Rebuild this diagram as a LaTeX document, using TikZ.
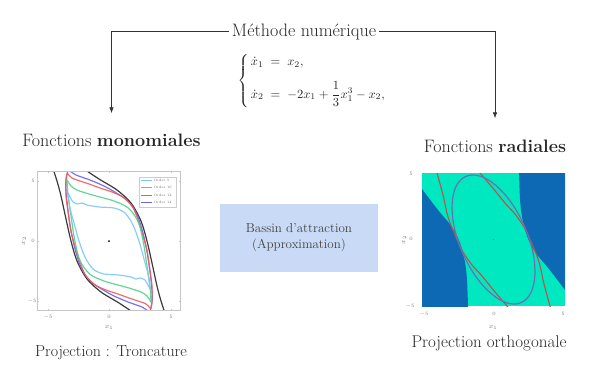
\documentclass[tikz,border=0pt]{standalone}
\usepackage{fontspec}
\usepackage{amsmath}
\usepackage{graphicx}
\usetikzlibrary{arrows.meta}
\definecolor{boxblue}{HTML}{C9DAF7}
\definecolor{dkblue}{HTML}{0D69B3}
\definecolor{aqua}{HTML}{00E8BF}
\definecolor{ellc}{HTML}{6C6FB0}
\definecolor{redc}{HTML}{B8524E}
\definecolor{ofive}{HTML}{7CC8F6}
\definecolor{oten}{HTML}{4FD38C}
\definecolor{otwelve}{HTML}{F25B5B}
\definecolor{ofourteen}{HTML}{6565F2}
\newcommand{\HalfCyan}{plot[smooth] coordinates {(-41,-48) (-36,-39) (-31,-37) (-27,-38) (-22,-36) (-10,-34) (5,-33) (16,-28) (24,-16) (30,0) (35,18) (39,33) (41,48)}}
\newcommand{\HalfGreen}{plot[smooth] coordinates {(-42,-61) (-38,-55) (-32,-51) (-20,-47) (-9,-44) (5,-40) (18,-34) (26,-25) (31,-14) (35,5) (38,25) (41,45) (42,61)}}
\newcommand{\HalfRed}{plot[smooth] coordinates {(-42,-68) (-37,-63) (-32,-61) (-20,-57) (-9,-53) (3,-49) (14,-44) (23,-35) (28,-24) (34,-5) (38,10) (41,30) (43,45) (43,58) (42,67)}}
\newcommand{\HalfBlue}{plot[smooth] coordinates {(-39,-70) (-33,-66) (-19,-61) (-5,-55) (4,-50) (15,-43) (23,-35) (29,-24) (34,-8) (38,10) (41,30) (43,50) (43,62) (41,70)}}
\newcommand{\HalfBlack}{plot[smooth] coordinates {(-28,-74) (-10,-62) (8,-51) (22,-38) (32,-20) (38,0) (43,22) (48,45) (52,60) (57,75)}}
\newcommand{\RedSep}{plot[smooth] coordinates {(434,163) (437,173) (443,195) (448,217) (455,235) (463,252) (472,265) (482,276) (495,292) (507,306) (513,313)}}
\newcommand{\DarkRegion}{plot[smooth] coordinates {(422,189) (438,210) (452,227) (460,243) (465,262) (467,280) (468,306)} -- (468,315) -- (412,315) -- (412,189) -- cycle}
\begin{document}
\begin{tikzpicture}[x=1pt,y=-1pt,
  arr/.style={draw=black!80, line width=0.7pt, -{Latex[length=6pt,width=4.5pt]}},
  title/.style={font=\fontsize{18}{22}\selectfont, text=black!85, inner sep=3pt},
  curve/.style={line width=1.2pt, line cap=round, line join=round, opacity=0.9},
  ticklab/.style={font=\fontsize{5}{6}\selectfont, text=black!55, inner sep=0pt},
  axlab/.style={font=\fontsize{7}{8}\selectfont, text=black!55, inner sep=0pt},
  legtext/.style={font=\fontsize{3.4}{4}\selectfont, text=black!60, inner sep=0pt, anchor=west}]
\useasboundingbox (0,0) rectangle (591,383);

% titles
\node[title, anchor=base] (meth) at (304,36) {Méthode numérique};
\node[title, anchor=base] (mono) at (111.5,146) {Fonctions \textbf{monomiales}};
\node[title, anchor=base] (radi) at (495,152) {Fonctions \textbf{radiales}};
\node[anchor=base, font=\fontsize{16}{19}\selectfont, text=black!85] (projA) at (111,356) {Projection : Troncature};
\node[anchor=base, font=\fontsize{17}{20}\selectfont, text=black!85] (projB) at (489,347) {Projection orthogonale};
\node[fill=boxblue, minimum width=158pt, minimum height=68pt, align=center,
      font=\fontsize{13}{16}\selectfont, text=black!75] (bassin) at (299,238) {Bassin d'attraction\\(Approximation)};
\node[text=black!85, inner sep=0pt] (eq) at (312,81) {\scalebox{1.25}{$\left\{\,\begin{array}{@{}l@{}}\dot x_1 \;=\; x_2,\\[9pt] \dot x_2 \;=\; -2x_1+\dfrac{1}{3}x_1^3-x_2,\end{array}\right.$}};

\draw[arr, shorten >=17pt] (meth.west) -| (mono.north);
\draw[arr, shorten >=18pt] (meth.east) -| (radi.north);

% ---------- left plot ----------
\begin{scope}
  \clip (37.7,171) rectangle (180,310);
  \begin{scope}[shift={(109,241)}]
    \draw[curve, black!85] \HalfBlack;
    \draw[curve, black!85, rotate=180] \HalfBlack;
    \draw[curve, ofourteen] \HalfBlue;
    \draw[curve, ofourteen, rotate=180] \HalfBlue;
    \draw[curve, otwelve] \HalfRed;
    \draw[curve, otwelve, rotate=180] \HalfRed;
    \draw[curve, oten] \HalfGreen;
    \draw[curve, oten, rotate=180] \HalfGreen;
    \draw[curve, ofive] \HalfCyan;
    \draw[curve, ofive, rotate=180] \HalfCyan;
    \fill[black] (0,0) circle (1pt);
  \end{scope}
\end{scope}
\draw[gray!45, line width=0.5pt] (37.7,171) rectangle (180,310);
\foreach \xx in {48,109,171} {
  \draw[gray!45, line width=0.4pt] (\xx,310) -- (\xx,308.5);
  \draw[gray!45, line width=0.4pt] (\xx,171) -- (\xx,172.5);
}
\foreach \yy in {181,241,301} {
  \draw[gray!45, line width=0.4pt] (37.7,\yy) -- (39.2,\yy);
  \draw[gray!45, line width=0.4pt] (180,\yy) -- (178.5,\yy);
}
% legend
\draw[gray!40, fill=white, line width=0.4pt] (139,177) rectangle (176,207);
\draw[ofive, line width=1pt] (141,180.5) -- (152,180.5);
\draw[oten, line width=1pt] (141,187.8) -- (152,187.8);
\draw[otwelve, line width=1pt] (141,195.1) -- (152,195.1);
\draw[ofourteen, line width=1pt] (141,202.4) -- (152,202.4);
\node[legtext] (lgA) at (153.5,180.5) {Order 5};
\node[legtext] (lgB) at (153.5,187.8) {Order 10};
\node[legtext] (lgC) at (153.5,195.1) {Order 12};
\node[legtext] (lgD) at (153.5,202.4) {Order 14};
% ticks left
\node[ticklab] (lyA) at (33,181) {5};
\node[ticklab] (lyB) at (33,241) {0};
\node[ticklab] (lyC) at (32,301) {$-5$};
\node[ticklab] (lxA) at (48,317) {$-5$};
\node[ticklab] (lxB) at (109,317) {0};
\node[ticklab] (lxC) at (171,317) {5};
\node[axlab] (lxl) at (109,327) {$x_1$};
\node[axlab, rotate=90] (lyl) at (24,241) {$x_2$};

% ---------- right plot ----------
\begin{scope}
  \clip (422,173) rectangle (565,306);
  \fill[aqua] (422,173) rectangle (565,306);
  \fill[dkblue] \DarkRegion;
  \fill[dkblue, rotate around={180:(493.5,239.5)}] \DarkRegion;
  \draw[redc, line width=1.1pt] \RedSep;
  \draw[redc, line width=1.1pt, rotate around={180:(493.5,239.5)}] \RedSep;
  \draw[ellc, line width=1.2pt, rotate around={-66.3:(493.5,239.5)}] (493.5,239.5) ellipse [x radius=68.9pt, y radius=33.7pt];
  \fill[dkblue!80] (493.5,239.5) circle (0.8pt);
\end{scope}
\node[ticklab] (ryA) at (411,174) {5};
\node[ticklab] (ryB) at (411,239) {0};
\node[ticklab] (ryC) at (410,306) {$-5$};
\node[ticklab] (rxA) at (424,314) {$-5$};
\node[ticklab] (rxB) at (494,314) {0};
\node[ticklab] (rxC) at (563,314) {5};
\node[axlab] (rxl) at (493,327) {$x_1$};
\node[axlab, rotate=90] (ryl) at (404,240) {$x_2$};
\end{tikzpicture}
\end{document}
